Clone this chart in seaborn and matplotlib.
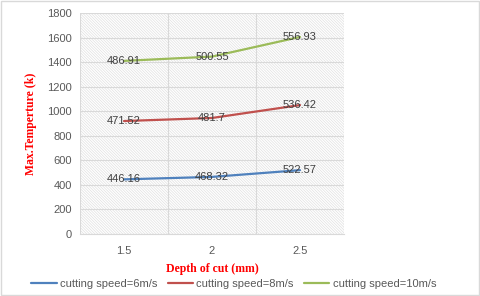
import matplotlib.pyplot as plt
import pandas as pd
import seaborn as sns
from matplotlib.patches import Rectangle

# values
depth = ['1.5', '2', '2.5']
series_names = ['cutting speed=6m/s', 'cutting speed=8m/s', 'cutting speed=10m/s']
temp_6 = [445, 465, 520]
temp_8 = [920, 945, 1050]
temp_10 = [1410, 1445, 1605]
labels_6 = ['446.16', '468.32', '522.57']
labels_8 = ['471.52', '481.7', '536.42']
labels_10 = ['486.91', '500.55', '556.93']
colors = ['#4F81BD', '#C0504D', '#9BBB59']

sns.set_style('white')
plt.rcParams['font.family'] = ['Liberation Sans', 'DejaVu Sans']
plt.rcParams['hatch.color'] = '#e0e0e0'
plt.rcParams['hatch.linewidth'] = 0.5

# long-form table for seaborn
rows = []
for name, temps in zip(series_names, [temp_6, temp_8, temp_10]):
    for i, t in enumerate(temps):
        rows.append({'pos': i, 'depth': depth[i], 'temp': t, 'series': name})
df = pd.DataFrame(rows)

fig = plt.figure(figsize=(4.8, 2.96), dpi=100)
ax = fig.add_axes([80 / 480, 62 / 296, 264 / 480, 221 / 296])

# hatched plot background
bg = Rectangle((0, 0), 1, 1, transform=ax.transAxes, facecolor='white',
               edgecolor='#e0e0e0', linewidth=0, hatch='\\' * 12, zorder=0)
ax.add_patch(bg)

sns.lineplot(data=df, x='pos', y='temp', hue='series', palette=colors,
             linewidth=1.6, ax=ax, zorder=3, legend=True)

# data labels
for temps, labs in zip([temp_6, temp_8, temp_10], [labels_6, labels_8, labels_10]):
    for i, (t, lab) in enumerate(zip(temps, labs)):
        ax.text(i, t, lab, ha='center', va='center', fontsize=8, color='#404040', zorder=4)

ax.set_xlim(-0.5, 2.5)
ax.set_ylim(0, 1800)
ax.set_yticks(range(0, 1801, 200))
ax.set_xticks(range(len(depth)))
ax.set_xticklabels(depth)
ax.set_xticks([-0.5, 0.5, 1.5, 2.5], minor=True)
ax.grid(True, axis='y', color='#d9d9d9', linewidth=0.8, zorder=1)
ax.grid(True, axis='x', which='minor', color='#d9d9d9', linewidth=0.8, zorder=1)
ax.grid(False, axis='x', which='major')
ax.set_axisbelow(True)
ax.tick_params(axis='both', which='both', length=0, labelsize=8, colors='#595959', pad=6)
ax.tick_params(axis='x', pad=9)
for s in ax.spines.values():
    s.set_visible(False)
ax.spines['bottom'].set_visible(True)
ax.spines['bottom'].set_color('#d9d9d9')

ax.set_xlabel('Depth of cut (mm)', family='Liberation Serif', fontweight='bold',
              color='red', fontsize=8.5, labelpad=5)
ax.set_ylabel('Max.Temperture (k)', family='Liberation Serif', fontweight='bold',
              color='red', fontsize=8.5, labelpad=7)

handles, lbls = ax.get_legend_handles_labels()
ax.legend_.remove()
fig.legend(handles, lbls, loc='center', bbox_to_anchor=(0.487, 12 / 296), ncol=3,
           frameon=False, fontsize=8, labelcolor='#595959', handlelength=2.3,
           columnspacing=0.9, handletextpad=0.3)

# light outer border
fig.add_artist(Rectangle((0.002, 0.003), 0.996, 0.994, transform=fig.transFigure,
                         fill=False, edgecolor='#d9d9d9', linewidth=1))

fig.savefig('out.png', dpi=100)
